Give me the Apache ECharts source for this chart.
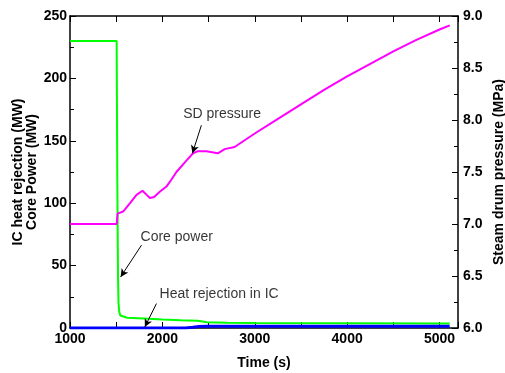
<!DOCTYPE html>
<html><head><meta charset="utf-8">
<script src="https://cdn.jsdelivr.net/npm/echarts@6/dist/echarts.min.js"></script>
<style>html,body{margin:0;padding:0;background:#fff}#c{width:505px;height:373px}</style>
</head><body><div id="c"></div>
<script>
// Core power (MW): [time s, MW]
const corePower = [[1000,230],[1505,230],[1512,120],[1520,40],[1525,20],[1533,13],[1545,10],[1565,8.8],[1620,8.2],[1800,7.6],[2000,6.8],[2200,6.2],[2380,5.8],[2420,5.4],[2480,4.6],[2700,4.3],[3000,4.1],[4000,3.8],[5110,3.6]];
// Heat rejection in IC (MW)
const heatRejection = [[1000,0],[2250,0],[2330,0.6],[2400,1.3],[2480,1.5],[3500,1.5],[5110,1.5]];
// Steam drum pressure (MPa)
const sdPressure = [[1000,7.0],[1505,7.0],[1515,7.1],[1530,7.115],[1575,7.12],[1650,7.2],[1720,7.28],[1785,7.32],[1830,7.28],[1865,7.25],[1910,7.26],[1972,7.31],[2044,7.36],[2100,7.43],[2152,7.5],[2260,7.61],[2332,7.68],[2386,7.70],[2476,7.70],[2600,7.68],[2674,7.72],[2782,7.74],[3000,7.87],[3268,8.02],[3500,8.15],[3750,8.29],[4000,8.42],[4250,8.54],[4500,8.66],[4750,8.77],[5000,8.87],[5111,8.91]];
// Annotations: [label, textX, textY, arrowFromX, arrowFromY, arrowToX, arrowToY] (data units)
const annotPressure = ['SD pressure', 2646, 8.06, 2422, 7.949, 2325, 7.68];
const annotCore = ['Core power', 2155, 73, 1774, 66.4, 1548, 40.9];
const annotHeat = ['Heat rejection in IC', 2614, 26.8, 1936, 19.6, 1810, 0.8];
// axis ticks
const xRange = [1000, 5200, 1000];
const yLeftRange = [0, 250, 50];
const yRightRange = [6, 9, 0.5];

const FONT = '"Liberation Sans", Arial, sans-serif';
const axisLineStyle = {color:'#000', width:1.5};
function xAx(pos, showLabel){
  return {type:'value', position:pos, min:xRange[0], max:xRange[1], interval:xRange[2],
    axisLine:{show:true, onZero:false, lineStyle:axisLineStyle},
    axisTick:{show:true, inside:true, length:6, lineStyle:{color:'#000',width:1}},
    minorTick:{show:true, splitNumber:2, length:6, lineStyle:{color:'#000',width:1}},
    splitLine:{show:false},
    axisLabel:{show:showLabel, color:'#000', fontFamily:FONT, fontWeight:'bold', fontSize:14, margin:4,
      formatter:v=>String(v)},
    name: showLabel ? 'Time (s)' : '', nameLocation:'middle', nameGap:28, nameMoveOverlap:false,
    nameTextStyle:{color:'#000', fontFamily:FONT, fontWeight:'bold', fontSize:14}};
}
function annot(a, yIdx){
  return [
    {type:'line', xAxisIndex:0, yAxisIndex:yIdx, data:[], silent:true,
     markLine:{silent:true, symbol:['none','arrow'], symbolSize:[6,8], label:{show:false},
       lineStyle:{color:'#000', width:1, type:'solid'},
       data:[[{coord:[a[3],a[4]]},{coord:[a[5],a[6]]}]]}},
    {type:'scatter', xAxisIndex:0, yAxisIndex:yIdx, symbolSize:0, silent:true,
     data:[[a[1],a[2]]],
     label:{show:true, position:'inside', formatter:a[0], color:'#000', fontFamily:FONT, fontSize:14}}
  ];
}
const chart = echarts.init(document.getElementById('c'), null, {renderer:'canvas'});
chart.setOption({
  animation:false,
  backgroundColor:'#fff',
  grid:{left:70, right:47, top:16, bottom:45, containLabel:false, outerBoundsMode:'none'},
  xAxis:[xAx('bottom', true), xAx('top', false)],
  yAxis:[
    {type:'value', position:'left', min:yLeftRange[0], max:yLeftRange[1], interval:yLeftRange[2],
     axisLine:{show:true, lineStyle:axisLineStyle},
     axisTick:{show:true, inside:true, length:6, lineStyle:{color:'#000',width:1}},
     minorTick:{show:true, splitNumber:2, length:4, lineStyle:{color:'#000',width:1}},
     splitLine:{show:false},
     axisLabel:{color:'#000', fontFamily:FONT, fontWeight:'bold', fontSize:14, margin:3},
     name:'IC heat rejection (MW)\nCore Power (MW)', nameLocation:'middle', nameRotate:90, nameGap:31,
     nameMoveOverlap:false,
     nameTextStyle:{color:'#000', fontFamily:FONT, fontWeight:'bold', fontSize:14, lineHeight:14, align:'center'}},
    {type:'value', position:'right', min:yRightRange[0], max:yRightRange[1], interval:yRightRange[2],
     axisLine:{show:true, lineStyle:axisLineStyle},
     axisTick:{show:true, inside:true, length:6, lineStyle:{color:'#000',width:1}},
     minorTick:{show:true, splitNumber:2, length:4, lineStyle:{color:'#000',width:1}},
     splitLine:{show:false},
     axisLabel:{color:'#000', fontFamily:FONT, fontWeight:'bold', fontSize:14, margin:5,
       formatter:v=>v.toFixed(1)},
     name:'Steam drum pressure (MPa)', nameLocation:'middle', nameRotate:90, nameGap:34,
     nameMoveOverlap:false,
     nameTextStyle:{color:'#000', fontFamily:FONT, fontWeight:'bold', fontSize:14}}
  ],
  series:[
    {type:'line', name:'Heat rejection in IC', xAxisIndex:0, yAxisIndex:0, data:heatRejection, showSymbol:false,
     lineStyle:{color:'#0000ff', width:3}, z:3},
    {type:'line', name:'Core power', xAxisIndex:0, yAxisIndex:0, data:corePower, showSymbol:false,
     lineStyle:{color:'#00ff00', width:2}, z:2},
    {type:'line', name:'SD pressure', xAxisIndex:0, yAxisIndex:1, data:sdPressure, showSymbol:false,
     lineStyle:{color:'#ff00ff', width:2}, z:2},
    ...annot(annotPressure, 1),
    ...annot(annotCore, 0),
    ...annot(annotHeat, 0)
  ]
});
</script>
</body></html>
